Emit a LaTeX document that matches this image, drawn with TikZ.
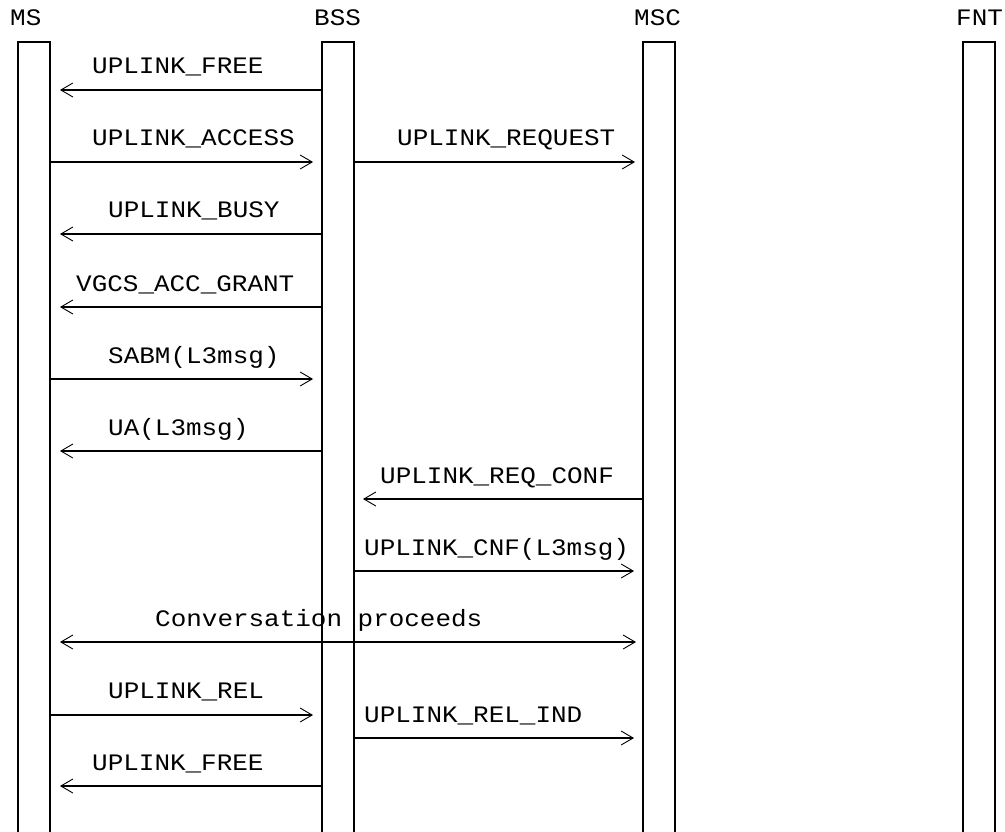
\documentclass[tikz,border=0pt]{standalone}
\usepackage{fontspec}
\setmonofont{Liberation Mono}[FakeStretch=1.1]
\usetikzlibrary{arrows.meta}
\begin{document}
\begin{tikzpicture}[x=1pt,y=-1pt,
  lbl/.style={font=\ttfamily\fontsize{23.6}{24}\selectfont, anchor=base west, inner sep=0pt},
  side/.style={line width=1.3pt},
  topbar/.style={line width=2pt},
  tip/.tip={Straight Barb[length=12pt,width=14pt,line width=0.9pt]},
  msg/.style={line width=2pt, -tip}]
\useasboundingbox (0,0) rectangle (1005,832);
% headers
\node[lbl] (hms) at (10,26) {MS};
\node[lbl] (hbss) at (314,26) {BSS};
\node[lbl] (hmsc) at (634,26) {MSC};
\node[lbl] (hfnt) at (956,26) {FNT};
% lifelines
\foreach \n/\l/\r in {ms/18/50, bss/322/354, msc/643/675, fnt/963/995}{
  \coordinate (\n TL) at (\l,42);
  \coordinate (\n TR) at (\r,42);
  \draw[side] (\l,832) -- (\n TL);
  \draw[side] (\r,832) -- (\n TR);
  \draw[topbar] ([xshift=-0.65pt]\n TL) -- ([xshift=0.65pt]\n TR);
}
% message end points
\coordinate (m1s) at (322,90);  \coordinate (m1e) at (60,90);
\coordinate (m2s) at (50,162);  \coordinate (m2e) at (313,162);
\coordinate (m3s) at (354,162); \coordinate (m3e) at (635,162);
\coordinate (m4s) at (322,234); \coordinate (m4e) at (60,234);
\coordinate (m5s) at (322,307); \coordinate (m5e) at (60,307);
\coordinate (m6s) at (50,379);  \coordinate (m6e) at (313,379);
\coordinate (m7s) at (322,451); \coordinate (m7e) at (60,451);
\coordinate (m8s) at (643,499); \coordinate (m8e) at (363,499);
\coordinate (m9s) at (354,571); \coordinate (m9e) at (634,571);
\coordinate (c1) at (60,642);   \coordinate (c2) at (636,642);
\coordinate (m10s) at (50,715); \coordinate (m10e) at (313,715);
\coordinate (m11s) at (354,738); \coordinate (m11e) at (634,738);
\coordinate (m12s) at (322,786); \coordinate (m12e) at (60,786);
% messages
\draw[msg] (m1s) -- (m1e);
\draw[msg] (m2s) -- (m2e);
\draw[msg] (m3s) -- (m3e);
\draw[msg] (m4s) -- (m4e);
\draw[msg] (m5s) -- (m5e);
\draw[msg] (m6s) -- (m6e);
\draw[msg] (m7s) -- (m7e);
\draw[msg] (m8s) -- (m8e);
\draw[msg] (m9s) -- (m9e);
\draw[msg, tip-tip] (c1) -- (c2);
\draw[msg] (m10s) -- (m10e);
\draw[msg] (m11s) -- (m11e);
\draw[msg] (m12s) -- (m12e);
% labels
\node[lbl] (l1) at (92,74) {UPLINK\_FREE};
\node[lbl] (l2) at (92,146) {UPLINK\_ACCESS};
\node[lbl] (l3) at (397,146) {UPLINK\_REQUEST};
\node[lbl] (l4) at (108,218) {UPLINK\_BUSY};
\node[lbl] (l5) at (76,291) {VGCS\_ACC\_GRANT};
\node[lbl] (l6) at (108,363) {SABM(L3msg)};
\node[lbl] (l7) at (108,435) {UA(L3msg)};
\node[lbl] (l8) at (380,483) {UPLINK\_REQ\_CONF};
\node[lbl] (l9) at (364,555) {UPLINK\_CNF(L3msg)};
\node[lbl] (l10) at (155,626) {Conversation proceeds};
\node[lbl] (l11) at (108,698) {UPLINK\_REL};
\node[lbl] (l12) at (364,722) {UPLINK\_REL\_IND};
\node[lbl] (l13) at (92,770) {UPLINK\_FREE};
\end{tikzpicture}
\end{document}
